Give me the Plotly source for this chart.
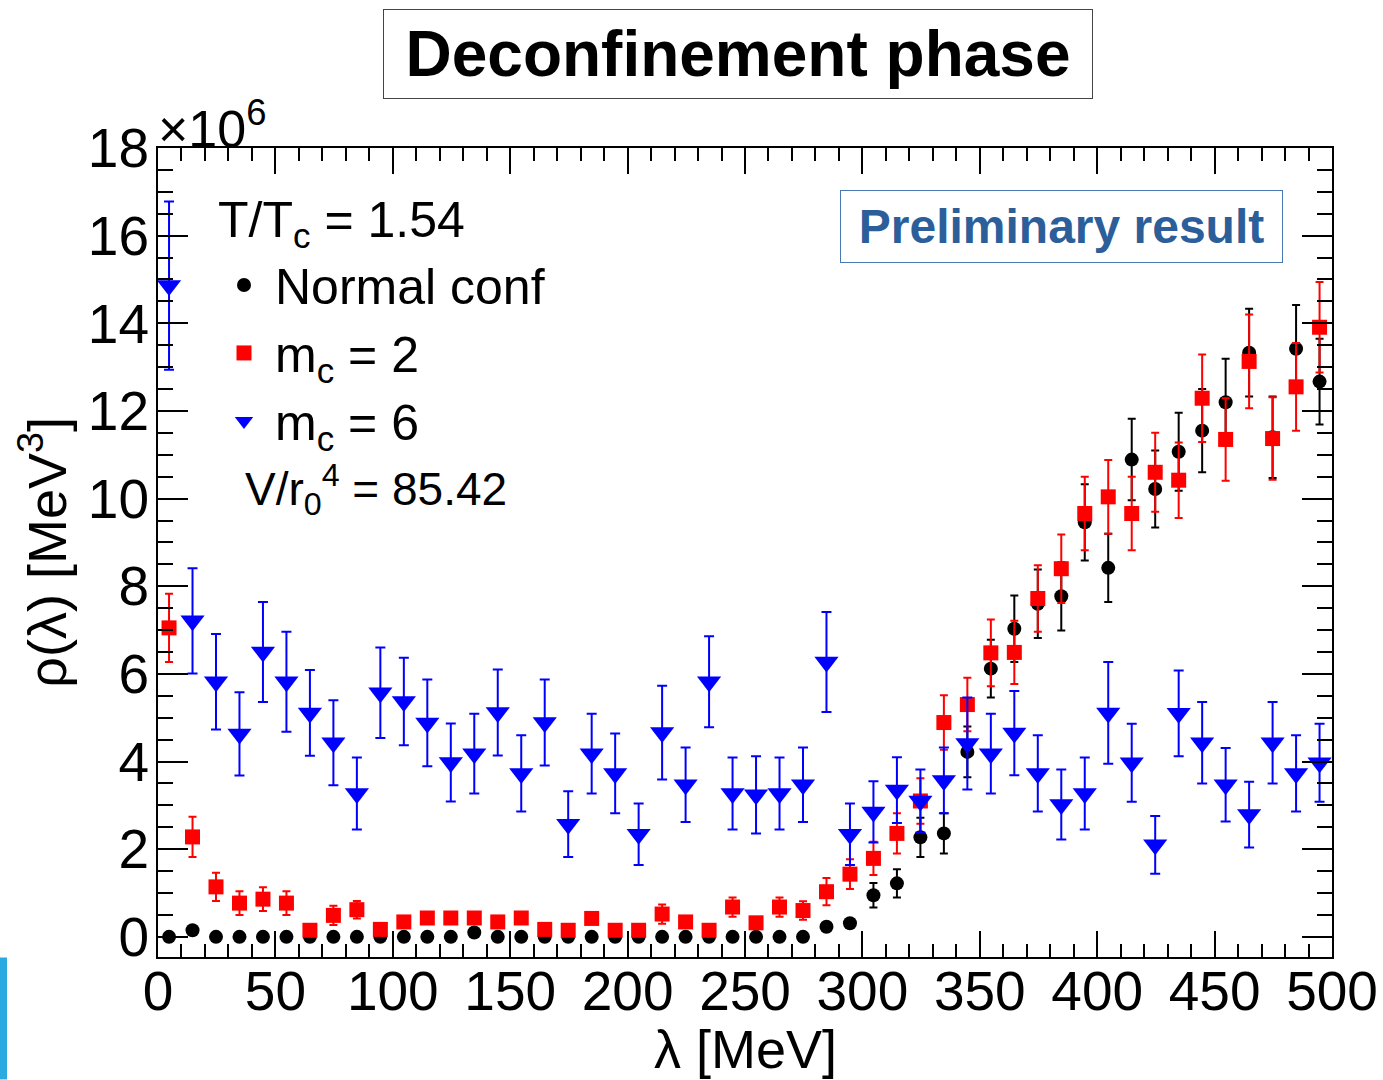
import plotly.graph_objects as go

# lambda [MeV]
lam = [4.7, 14.7, 24.7, 34.7, 44.7, 54.7, 64.7, 74.7, 84.7, 94.7,
       104.7, 114.7, 124.7, 134.7, 144.7, 154.7, 164.7, 174.7, 184.7, 194.7,
       204.7, 214.7, 224.7, 234.7, 244.7, 254.7, 264.7, 274.7, 284.7, 294.7,
       304.7, 314.7, 324.7, 334.7, 344.7, 354.7, 364.7, 374.7, 384.7, 394.7,
       404.7, 414.7, 424.7, 434.7, 444.7, 454.7, 464.7, 474.7, 484.7, 494.7]

# rho(lambda) in units of 10^6 MeV^3
normal = [0.0, 0.15, 0.0, 0.0, 0.0, 0.0, 0.0, 0.0, 0.0, 0.0,
          0.0, 0.0, 0.0, 0.1, 0.0, 0.0, 0.0, 0.0, 0.0, 0.0,
          0.0, 0.0, 0.0, 0.0, 0.0, 0.0, 0.0, 0.0, 0.23, 0.31,
          0.95, 1.22, 2.27, 2.36, 4.22, 6.12, 7.03, 7.6, 7.77, 9.46,
          8.42, 10.89, 10.22, 11.07, 11.55, 12.2, 13.33, 11.4, 13.42, 12.67]
normal_err = [0.03, 0.03, 0.03, 0.03, 0.03, 0.03, 0.03, 0.03, 0.03, 0.03,
              0.03, 0.03, 0.03, 0.03, 0.03, 0.03, 0.03, 0.03, 0.03, 0.03,
              0.03, 0.03, 0.03, 0.03, 0.03, 0.03, 0.03, 0.03, 0.05, 0.06,
              0.28, 0.32, 0.45, 0.46, 0.58, 0.66, 0.76, 0.78, 0.78, 0.87,
              0.78, 0.93, 0.88, 0.89, 0.95, 0.99, 1.0, 0.93, 1.0, 0.98]

mc2 = [7.05, 2.28, 1.14, 0.77, 0.86, 0.77, 0.15, 0.49, 0.62, 0.17,
       0.34, 0.43, 0.43, 0.43, 0.34, 0.43, 0.17, 0.15, 0.42, 0.15,
       0.15, 0.52, 0.34, 0.15, 0.68, 0.32, 0.68, 0.6, 1.03, 1.43,
       1.79, 2.36, 3.1, 4.89, 5.3, 6.48, 6.49, 7.72, 8.4, 9.66,
       10.04, 9.66, 10.6, 10.42, 12.29, 11.35, 13.13, 11.37, 12.55, 13.91]
mc2_err = [0.78, 0.46, 0.32, 0.27, 0.27, 0.27, 0.12, 0.22, 0.2, 0.12,
           0.12, 0.12, 0.12, 0.12, 0.12, 0.12, 0.12, 0.12, 0.12, 0.12,
           0.12, 0.22, 0.12, 0.12, 0.22, 0.12, 0.22, 0.21, 0.31, 0.34,
           0.38, 0.46, 0.52, 0.62, 0.61, 0.76, 0.72, 0.76, 0.78, 0.84,
           0.84, 0.84, 0.9, 0.86, 1.0, 0.94, 1.07, 0.94, 1.0, 1.03]

mc6 = [14.86, 7.21, 5.82, 4.63, 6.5, 5.82, 5.11, 4.43, 3.27, 5.57,
       5.37, 4.88, 3.98, 4.18, 5.12, 3.73, 4.89, 2.57, 4.18, 3.73,
       2.34, 4.66, 3.47, 5.82, 3.27, 3.24, 3.27, 3.47, 6.27, 2.34,
       2.85, 3.35, 3.1, 3.57, 4.41, 4.18, 4.65, 3.73, 3.02, 3.27,
       5.11, 3.97, 2.1, 5.1, 4.43, 3.47, 2.79, 4.43, 3.73, 3.97]
mc6_err = [1.92, 1.2, 1.09, 0.95, 1.14, 1.14, 0.98, 0.97, 0.82, 1.03,
           1.0, 0.99, 0.89, 0.91, 0.98, 0.87, 0.98, 0.75, 0.91, 0.91,
           0.7, 1.07, 0.85, 1.04, 0.82, 0.88, 0.82, 0.85, 1.14, 0.7,
           0.7, 0.75, 0.72, 0.75, 1.05, 0.91, 0.96, 0.87, 0.8, 0.82,
           1.16, 0.89, 0.66, 0.98, 0.93, 0.84, 0.75, 0.93, 0.87, 0.89]

names = ["Normal conf", "m<sub>c</sub> = 2", "m<sub>c</sub> = 6"]
FONT = "Liberation Sans, Arial, sans-serif"

fig = go.Figure()
fig.add_trace(go.Scatter(
    x=lam, y=normal, mode="markers", name=names[0],
    marker=dict(symbol="circle", size=14, color="black"),
    error_y=dict(type="data", array=normal_err, color="black", thickness=2, width=4)))
fig.add_trace(go.Scatter(
    x=lam, y=mc2, mode="markers", name=names[1],
    marker=dict(symbol="square", size=15, color="#ff0000"),
    error_y=dict(type="data", array=mc2_err, color="#ff0000", thickness=2, width=4)))
fig.add_trace(go.Scatter(
    x=lam, y=mc6, mode="markers", name=names[2],
    marker=dict(symbol="triangle-down", size=21, color="#0000ff"),
    error_y=dict(type="data", array=mc6_err, color="#0000ff", thickness=2, width=5)))

axis_common = dict(
    showline=True, linecolor="black", linewidth=2, mirror="allticks",
    ticks="inside", tickcolor="black", tickwidth=2,
    showgrid=False, zeroline=False,
    tickfont=dict(family=FONT, size=55, color="black"),
)
fig.update_xaxes(range=[0, 500], tick0=0, dtick=50, ticklen=26, ticklabelstandoff=-15,
                 minor=dict(dtick=10, ticklen=13, ticks="inside", tickcolor="black", tickwidth=2),
                 **axis_common)
fig.update_yaxes(range=[-0.46, 18], tick0=0, dtick=2, ticklen=30, ticklabelstandoff=-4,
                 minor=dict(dtick=0.5, ticklen=15, ticks="inside", tickcolor="black", tickwidth=2),
                 **axis_common)

W, H = 1383, 1080
L, R, T, B = 158, 51, 148, 122.5
pw, ph = W - L - R, H - T - B


def px(x):
    return (x - L) / pw


def py(y):
    return (H - B - y) / ph


annotations = [
    dict(text="<b>Deconfinement phase</b>", x=px(738), y=py(54), xref="paper", yref="paper",
         xanchor="center", yanchor="middle", showarrow=False,
         font=dict(family=FONT, size=64, color="black"),
         bordercolor="#444", borderwidth=1, borderpad=0, width=708, height=88, bgcolor="white"),
    dict(text="<b>Preliminary result</b>", x=px(1061.5), y=py(226.5), xref="paper", yref="paper",
         xanchor="center", yanchor="middle", showarrow=False,
         font=dict(family=FONT, size=48, color="#2c5f9a"),
         bordercolor="#4a78b0", borderwidth=1, borderpad=0, width=441, height=71, bgcolor="white"),
    dict(text="×10<sup>6</sup>", x=px(156), y=py(160), xref="paper", yref="paper",
         xanchor="left", yanchor="bottom", showarrow=False,
         font=dict(family=FONT, size=52, color="black")),
    dict(text="T/T<sub>c</sub> = 1.54", x=px(216), y=py(224), xref="paper", yref="paper",
         xanchor="left", yanchor="middle", showarrow=False,
         font=dict(family=FONT, size=50, color="black")),
    dict(text="V/r<sub>0</sub><sup>4</sup> = 85.42", x=px(243), y=py(490), xref="paper", yref="paper",
         xanchor="left", yanchor="middle", showarrow=False,
         font=dict(family=FONT, size=46, color="black")),
    dict(text="ρ(λ) [MeV<sup>3</sup>]", x=px(43), y=py(552), xref="paper", yref="paper",
         xanchor="center", yanchor="middle", textangle=-90, showarrow=False,
         font=dict(family=FONT, size=54, color="black")),
    dict(text="λ [MeV]", x=px(745), y=py(1050), xref="paper", yref="paper",
         xanchor="center", yanchor="middle", showarrow=False,
         font=dict(family=FONT, size=54, color="black")),
]

fig.update_layout(
    width=W, height=H,
    margin=dict(l=L, r=R, t=T, b=B, autoexpand=False),
    paper_bgcolor="white", plot_bgcolor="white",
    showlegend=True,
    legend=dict(x=px(213), y=py(246), xanchor="left", yanchor="top",
                font=dict(family=FONT, size=50, color="black"),
                bgcolor="rgba(0,0,0,0)", borderwidth=0, itemwidth=52, tracegroupgap=0),
    annotations=annotations,
    shapes=[dict(type="rect", xref="paper", yref="paper", x0=px(0), x1=px(7), y0=py(958), y1=py(1080),
                 fillcolor="#29abe2", line=dict(width=0))],
)

fig.write_html("out.html")
